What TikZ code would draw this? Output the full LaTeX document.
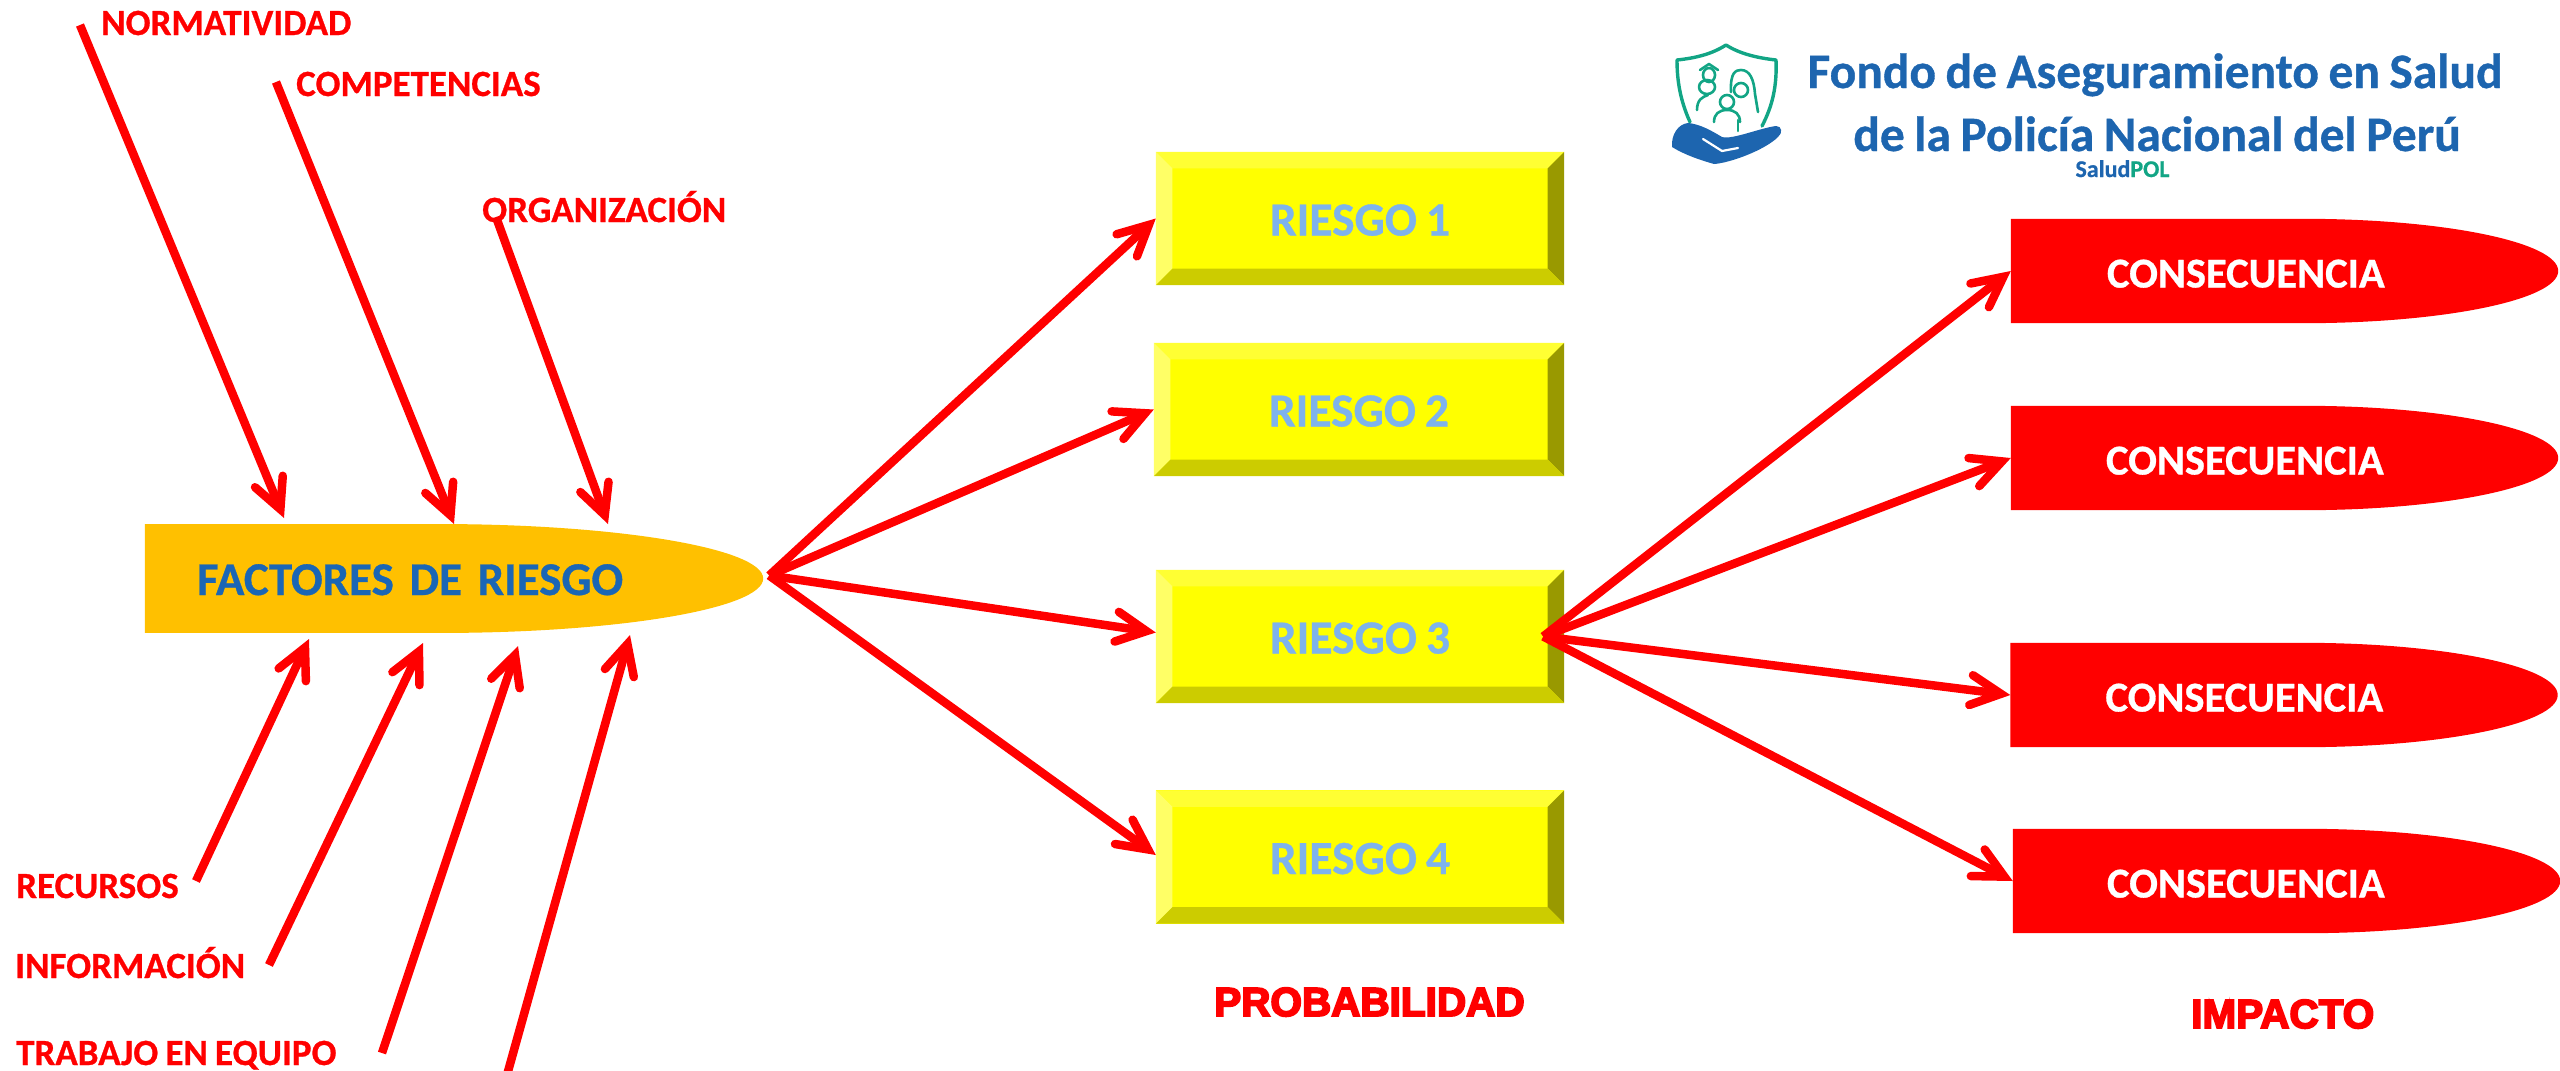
\documentclass[tikz,border=0pt]{standalone}
\usepackage{fontspec}
\setmainfont{Carlito}[WordSpace=0.85,BoldFeatures={FakeBold=0.7}]
\newfontfamily\heavyfont[FakeBold=4.5]{Liberation Sans Bold}
\usetikzlibrary{arrows.meta,calc,backgrounds}
\definecolor{riskblue}{HTML}{7EB3EC}
\definecolor{factblue}{HTML}{1A66B5}
\definecolor{factgold}{HTML}{FFC000}
\definecolor{logoblue}{HTML}{1D65AF}
\definecolor{logogreen}{HTML}{12A585}
\definecolor{purered}{HTML}{FF0000}
\definecolor{boxface}{HTML}{FFFF00}
\definecolor{bevtop}{HTML}{FFFF33}
\definecolor{bevleft}{HTML}{FFFF66}
\definecolor{bevright}{HTML}{999900}
\definecolor{bevbottom}{HTML}{CCCC00}
\tikzset{
  redarrow/.style={draw=purered,line width=8.5pt,line cap=butt,-{Straight Barb[length=30pt,width=30pt,line cap=round,line join=miter]}},
  riskbox/.style={inner sep=0pt,minimum width=408pt,minimum height=133pt,text=riskblue,font=\fontsize{47.5}{47.5}\selectfont\bfseries,text height=34pt,text depth=0pt},
  consbox/.style={inner sep=0pt,minimum width=547pt,minimum height=104pt,text width=547pt,align=left,text=white,font=\fontsize{42.5}{42.5}\selectfont\bfseries,text height=33pt,text depth=0pt},
  redlabel/.style={anchor=base west,inner sep=0pt,text=purered,font=\fontsize{37}{37}\selectfont\bfseries},
  heavylabel/.style={anchor=base west,inner sep=0pt,text=purered,font=\heavyfont\fontsize{40.5}{40.5}\selectfont},
  logotext/.style={anchor=base,inner sep=0pt,text=logoblue,font=\fontsize{49.5}{49.5}\selectfont\bfseries},
  logoline/.style={draw=logogreen,line width=2.6pt,line cap=round,line join=round}
}
\newcommand{\bevelbox}[1]{%
  \begin{scope}[on background layer]
  \fill[boxface] (#1.north west) rectangle (#1.south east);
  \fill[bevtop] (#1.north west) -- (#1.north east) -- ($(#1.north east)+(-16.5,16.5)$) -- ($(#1.north west)+(16.5,16.5)$) -- cycle;
  \fill[bevleft] (#1.north west) -- ($(#1.north west)+(16.5,16.5)$) -- ($(#1.south west)+(16.5,-16.5)$) -- (#1.south west) -- cycle;
  \fill[bevright] (#1.north east) -- (#1.south east) -- ($(#1.south east)+(-16.5,-16.5)$) -- ($(#1.north east)+(-16.5,16.5)$) -- cycle;
  \fill[bevbottom] (#1.south west) -- (#1.south east) -- ($(#1.south east)+(-16.5,-16.5)$) -- ($(#1.south west)+(16.5,-16.5)$) -- cycle;
  \end{scope}}
% name, colour, x radius, y radius
\newcommand{\tongue}[4]{%
  \begin{scope}[on background layer]
  \fill[#2] (#1.north west) -- ($(#1.north east)+(-#3,0)$)
    .. controls ($(#1.north east)+(-.4477*#3,0)$) and ($(#1.east)+(0,-.5523*#4)$) .. (#1.east)
    .. controls ($(#1.east)+(0,.5523*#4)$) and ($(#1.south east)+(-.4477*#3,0)$) .. ($(#1.south east)+(-#3,0)$)
    -- (#1.south west) -- cycle;
  \end{scope}}
\begin{document}
\begin{tikzpicture}[x=1pt,y=-1pt]
\useasboundingbox (0,0) rectangle (2560,1071);

% main shape
\node[inner sep=0pt,minimum width=618pt,minimum height=108.5pt,text width=618pt,align=left,text=factblue,font=\fontsize{47}{47}\selectfont\bfseries,text height=33pt,text depth=0pt] (fac) at (454,578.5) {\hspace*{52pt}\mbox{FACTORES DE RIESGO}};
\tongue{fac}{factgold}{323}{54.25}

% risks
\node[riskbox] (r1) at (1360,218.5) {RIESGO 1};
\node[riskbox,minimum width=410pt] (r2) at (1359,409.5) {RIESGO 2};
\node[riskbox] (r3) at (1360,636.5) {RIESGO 3};
\node[riskbox] (r4) at (1360,857) {RIESGO 4};
\bevelbox{r1}\bevelbox{r2}\bevelbox{r3}\bevelbox{r4}

% consequences
\node[consbox] (c1) at (2284.5,271) {\hspace*{96pt}CONSECUENCIA};
\node[consbox] (c2) at (2284.5,458) {\hspace*{95pt}CONSECUENCIA};
\node[consbox] (c3) at (2284,695) {\hspace*{95pt}CONSECUENCIA};
\node[consbox] (c4) at (2286.5,881) {\hspace*{94pt}CONSECUENCIA};
\tongue{c1}{purered}{255}{52}
\tongue{c2}{purered}{255}{52}
\tongue{c3}{purered}{255}{52}
\tongue{c4}{purered}{255}{52}

% factor labels
\node[redlabel] (normatividad) at (101,35) {NORMATIVIDAD};
\node[redlabel] (competencias) at (296,96) {COMPETENCIAS};
\node[redlabel] (organizacion) at (482,222) {ORGANIZACIÓN};
\node[redlabel] (recursos) at (16,898) {RECURSOS};
\node[redlabel] (informacion) at (15,978) {INFORMACIÓN};
\node[redlabel] (trabajo) at (16,1065) {TRABAJO EN EQUIPO};

% free ends of arrows
\coordinate (a1) at (80,25);
\coordinate (a2) at (276,82);
\coordinate (a3) at (496,217);
\coordinate (a4) at (196,881);
\coordinate (a5) at (269,965);
\coordinate (a6) at (382,1053);
\coordinate (a7) at (507,1075);
\coordinate (b1) at (284,518);
\coordinate (b2) at (454,524);
\coordinate (b3) at (608,524);
\coordinate (b4) at (309,639);
\coordinate (b5) at (423,643);
\coordinate (b6) at (518,646);
\coordinate (b7) at (630,635);

\draw[redarrow] (a1) -- (b1);
\draw[redarrow] (a2) -- (b2);
\draw[redarrow] (a3) -- (b3);
\draw[redarrow] (a4) -- (b4);
\draw[redarrow] (a5) -- (b5);
\draw[redarrow] (a6) -- (b6);
\draw[redarrow] (a7) -- (b7);

% factors to risks
\coordinate (froot) at ([xshift=6pt,yshift=3pt]fac.east);
\draw[redarrow] (froot) -- (r1.west);
\draw[redarrow] (froot) -- (r2.west);
\draw[redarrow] (froot) -- ([yshift=4pt]r3.west);
\draw[redarrow] (froot) -- ([yshift=2pt]r4.west);

% risk 3 to consequences
\coordinate (rroot) at ([xshift=-21pt]r3.east);
\draw[redarrow] (rroot) -- (c1.west);
\draw[redarrow] (rroot) -- (c2.west);
\draw[redarrow] (rroot) -- (c3.west);
\draw[redarrow] (rroot) -- (c4.west);

% axis labels
\node[heavylabel] (prob) at (1214,1016) {PROBABILIDAD};
\node[heavylabel] (imp) at (2191,1028) {IMPACTO};

% logo text
\node[logotext] (fondo1) at (2155,88) {Fondo de Aseguramiento en Salud};
\node[logotext] (fondo2) at (2157,151) {de la Policía Nacional del Perú};
\node[anchor=base,inner sep=0pt,font=\fontsize{24}{24}\selectfont\bfseries] (salud) at (2122.5,177) {\textcolor{logoblue}{Salud}\textcolor{logogreen}{POL}};

% logo emblem
\draw[logoline,line width=3.4pt] (1690,122) .. controls (1680,100) and (1677,80) .. (1677,60)
  .. controls (1696,58) and (1712,54) .. (1726,45)
  .. controls (1740,54) and (1758,58) .. (1776,60)
  .. controls (1777,85) and (1773,105) .. (1762,126);
% left adult
\draw[logoline] (1709,75) circle[x radius=6,y radius=7];
\draw[logoline] (1700,70) -- (1709,64) -- (1718,70);
\draw[logoline] (1707,87) circle[x radius=8,y radius=7];
\draw[logoline] (1697,110) .. controls (1697,100) and (1702,97) .. (1708,95);
% right adult
\draw[logoline] (1731,92) .. controls (1730,72) and (1736,70) .. (1741,70) .. controls (1750,70) and (1754,80) .. (1755,94) -- (1758,112);
\draw[logoline] (1741,90) circle[x radius=7,y radius=7];
% child
\draw[logoline] (1727,102) circle[x radius=7,y radius=7];
\draw[logoline] (1714,122) .. controls (1714,114) and (1719,110) .. (1727,110) .. controls (1735,110) and (1740,114) .. (1740,122);
\draw[logoline] (1738,120) -- (1738,131);
% hand
\fill[logoblue] (1672,147) .. controls (1671,135) and (1678,124) .. (1688,123)
  .. controls (1700,124) and (1712,131) .. (1722,137)
  .. controls (1732,140) and (1760,128) .. (1776,126)
  .. controls (1782,126) and (1783,133) .. (1778,137)
  .. controls (1765,150) and (1730,163) .. (1714,164)
  .. controls (1700,160) and (1685,155) .. (1672,147) -- cycle;
\draw[white,line width=2.2pt,line cap=round] (1703,139) -- (1722,151) -- (1738,148);
\end{tikzpicture}
\end{document}
